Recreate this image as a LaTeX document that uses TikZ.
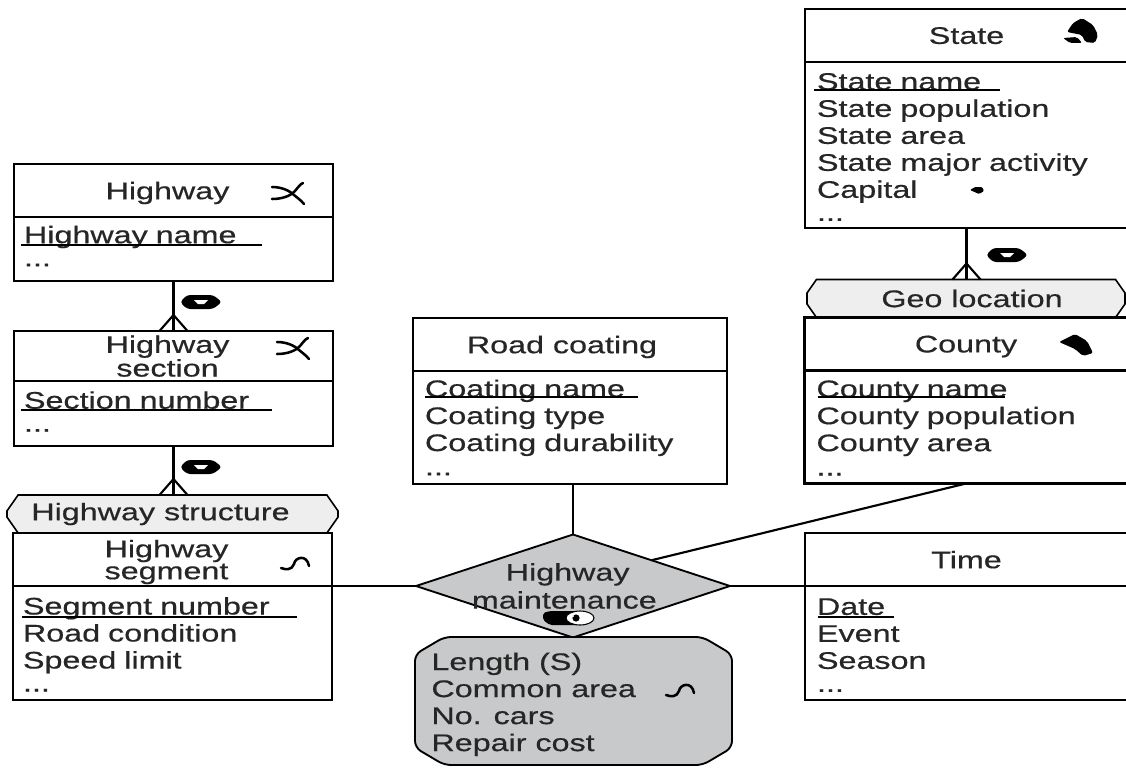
\documentclass[tikz,border=0pt]{standalone}
\usepackage{fontspec}
\setmainfont{Liberation Sans}[FakeStretch=1.345,FakeBold=.5]
\usetikzlibrary{positioning,shapes.geometric,shapes.misc}
\definecolor{subtypefill}{HTML}{EEEEEE}
\definecolor{relfill}{HTML}{C8C9CB}
\tikzset{
  roadicon/.pic={
    \draw[line width=1.9pt,line cap=round] (-16,-6) .. controls (-6,-6) and (2,-2) .. (6,2) .. controls (9,5) and (12,6) .. (16,11);
    \draw[line width=1.9pt,line cap=round] (-16,6) .. controls (-6,6) and (2,3) .. (6,-1) .. controls (9,-4) and (12,-9) .. (15,-10);
  },
  lineicon/.pic={
    \draw[line width=1.9pt,line cap=round] (-14,5) .. controls (-9,7) and (-3,7) .. (-1,1) .. controls (0,-6) and (12,-9) .. (14,3);
  },
  tagicon/.pic={
    \fill[rounded corners=2.5pt] (-21,0) -- (-14,-7) -- (12,-7) -- (21,0) -- (12,7) -- (-14,7) -- cycle;
    \fill[white] (-7,-2) -- (7,-2) -- (3,2) -- (-3,2) -- cycle;
  },
  eyeicon/.pic={
    \fill[rounded corners=1.5pt] (-26,-5) -- (-19,-7) -- (10,-7) -- (10,7) -- (-19,7) -- (-26,2) -- cycle;
    \draw[fill=white,line width=.8pt] (11,0) ellipse (14 and 7);
    \fill (7,0) circle (3.6);
    \fill[white] (4,-2) circle (1.2);
  },
  stateicon/.pic={
    \fill[rounded corners=1.5pt] (-7,-8) -- (2,-13) -- (13,-6) -- (18,4) -- (15,12) -- (5,11) -- (2,4) -- (-13,1) -- cycle;
    \fill[rounded corners=1.5pt] (-17,7) -- (-3,6) -- (2,12) -- (-10,12) -- cycle;
  },
  countyicon/.pic={
    \fill[rounded corners=1.5pt] (-16,-3) -- (0,-11) -- (12,-4) -- (18,8) -- (8,11) -- (0,4) -- cycle;
  },
  capitalicon/.pic={
    \fill[rounded corners=.8pt] (-7,0) -- (-2,-3) -- (5,-3) -- (7,1) -- (2,4) -- cycle;
  },
  crowfoot/.pic={
    \draw[connect] (0,-16) -- (-14,0) (0,-16) -- (14,0);
  },
}
\begin{document}
\begin{tikzpicture}[
  x=.75pt,y=-.75pt,
  every node/.style={font=\fontsize{18}{20.25}\selectfont,text=black!85,outer sep=0pt},
  connect/.style={line width=1.6pt},
  underlined/.style={line width=1.6pt},
  headbox/.style={draw,line width=1.9pt,inner sep=0pt,minimum width=#1,minimum height=39.75pt,text depth=0pt,align=center},
  bodybox/.style={draw,line width=1.9pt,inner xsep=9pt,inner ysep=0pt,text width=#1,align=left},
  leftbody/.style={bodybox=224.25pt,inner xsep=7.5pt},
  lowbody/.style={execute at begin node={\rule{0pt}{#1}}},
  tighttext/.style={font=\fontsize{18}{#1}\selectfont},
  subtypebox/.style={draw,line width=1.2pt,fill=subtypefill,chamfered rectangle,chamfered rectangle angle=35,chamfered rectangle xsep=14pt,inner sep=0pt,minimum height=28.5pt},
  relbox/.style={draw,line width=1.4pt,fill=relfill,diamond,aspect=3.05,inner sep=0pt,minimum width=235.5pt,minimum height=77.25pt},
  attrarea/.style={inner sep=0pt,minimum width=237.75pt,minimum height=96pt},
  attrshape/.style={draw,line width=1.4pt,fill=relfill,rounded corners=5pt},
  ]
  \useasboundingbox[fill=white] (0,0) rectangle (1126,767);

  % right column
  \node[headbox=242.25pt] (statehead) at (966.5,35.5) {State};
  \node[bodybox=224.25pt,lowbody=15.5pt,minimum height=124.5pt,below=0pt of statehead] (statebody) {State name\\State population\\State area\\State major activity\\Capital\\[-3pt]...};
  \node[subtypebox,minimum width=238.5pt] (geo) at (966,298.5) {Geo location\kern-9pt};
  \node[headbox=242.25pt,below=0pt of geo] (countyhead) {County};
  \node[bodybox=224.25pt,lowbody=14pt,minimum height=84.75pt,below=0pt of countyhead] (countybody) {County name\\County population\\County area\\[-2pt]...};
  \node[headbox=242.25pt] (timehead) at (966.5,559.5) {Time};
  \node[bodybox=224.25pt,lowbody=15.5pt,minimum height=85.5pt,below=0pt of timehead] (timebody) {Date\\Event\\Season\\[-3pt]...};

  % left column
  \node[headbox=239.25pt] (highwayhead) at (173.5,190.5) {Highway\kern9pt};
  \node[leftbody,minimum height=48pt,below=0pt of highwayhead] (highwaybody) {Highway name\\[-3pt]...\rule[-4.5pt]{0pt}{1pt}};
  \node[headbox=239.25pt,minimum height=37.5pt,tighttext=15.5pt] (sectionhead) at (173.5,356) {Highway\kern9pt\\section\kern9pt};
  \node[leftbody,minimum height=48.75pt,below=0pt of sectionhead] (sectionbody) {Section number\\[-3pt]...\rule[-3pt]{0pt}{1pt}};
  \node[subtypebox,minimum width=248.25pt] (structure) at (172.5,514) {Highway structure\kern18pt};
  \node[headbox=239.25pt,tighttext=16.5pt,below=0pt of structure] (segmenthead) {Highway\kern9pt\\segment\kern9pt};
  \node[leftbody,lowbody=15pt,minimum height=85.5pt,below=0pt of segmenthead] (segmentbody) {Segment number\\Road condition\\Speed limit\\[-3pt]...};

  % middle
  \node[headbox=235.5pt] (coatinghead) at (570,344.5) {Road coating\kern12pt};
  \node[bodybox=217.5pt,minimum height=84.75pt,below=0pt of coatinghead] (coatingbody) {Coating name\\Coating type\\Coating durability\\[-2pt]...};
  \node[relbox] (maintenance) at (573,586) {};
  \node[align=center,font=\fontsize{18}{21}\selectfont] (maintenancetext) at (maintenance) {Highway\kern8pt\\maintenance\kern13pt};
  \node[attrarea] (attributes) at (573.5,701) {};
  \draw[attrshape] ([xshift=22pt]attributes.north west) -- ([xshift=-22pt]attributes.north east) -- ([yshift=-13pt]attributes.north east) -- ([yshift=13pt]attributes.south east) -- ([xshift=-22pt]attributes.south east) -- ([xshift=22pt]attributes.south west) -- ([yshift=13pt]attributes.south west) -- ([yshift=-13pt]attributes.north west) -- cycle;
  \node[align=left,right=9pt of attributes.west,yshift=-2.5pt] (attributestext) {Length (S)\\Common area\\No. cars\\Repair cost};

  \draw[connect] (statebody.south) -- (statebody.south |- geo.north);
  \draw[connect] (highwaybody.south) -- (highwaybody.south |- sectionhead.north);
  \draw[connect] (sectionbody.south) -- (sectionbody.south |- structure.north);
  \draw[connect] (coatingbody.south -| maintenance.north) -- (maintenance.north);
  \draw[connect] (countybody.south) -- (maintenance.north east);
  \draw[connect] (segmenthead.south east) -- (maintenance.west);
  \draw[connect] (maintenance.east) -- (timehead.south west);

  \path (statebody.south |- geo.north) pic {crowfoot};
  \path (highwaybody.south |- sectionhead.north) pic {crowfoot};
  \path (sectionbody.south |- structure.north) pic {crowfoot};

  \foreach \xa/\xb/\yy in {814/1000/90,21/262/245,21/272/410,22/297/617,425/638/397,818/1005/397,818/894/617}
    \draw[underlined] (\xa,\yy) -- (\xb,\yy);

  \path (1080,31) pic {stateicon};
  \path (977,190) pic {capitalicon};
  \path (1007,255) pic {tagicon};
  \path (1075,345) pic {countyicon};
  \path (288,193) pic {roadicon};
  \path (293,348) pic {roadicon};
  \path (295,563) pic {lineicon};
  \path (680,690) pic {lineicon};
  \path (201,302) pic {tagicon};
  \path (201,467) pic {tagicon};
  \path (569,618) pic {eyeicon};
\end{tikzpicture}
\end{document}
